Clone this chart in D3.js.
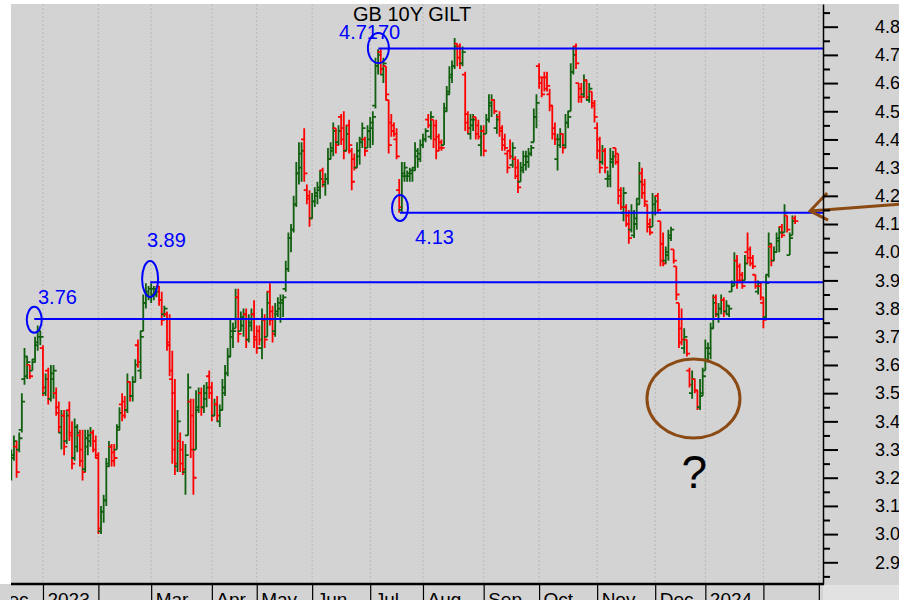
<!DOCTYPE html>
<html><head><meta charset="utf-8">
<script src="https://cdn.jsdelivr.net/npm/d3@7"></script>
<style>
body{margin:0;background:#fff}
svg{display:block;font-family:"Liberation Sans",Arial,Helvetica,sans-serif}
</style>
</head><body>
<svg id="c" width="899" height="600"></svg>
<script>
// ---- daily bars: [open, high, low, close] (yield %) ----
const dec22=[[3.21,3.30,3.19,3.28],[3.27,3.35,3.26,3.33],[3.31,3.33,3.20,3.22],[3.30,3.36,3.29,3.34],[3.37,3.50,3.36,3.47],[3.55,3.66,3.53,3.63],[3.56,3.63,3.55,3.61],[3.60,3.60,3.55,3.56],[3.58,3.62,3.58,3.61],[3.62,3.70,3.61,3.68],[3.67,3.74,3.65,3.72],[3.70,3.72,3.67,3.70]];
const jan23=[[3.66,3.67,3.49,3.52],[3.50,3.57,3.49,3.55],[3.58,3.59,3.46,3.48],[3.48,3.60,3.47,3.57],[3.55,3.60,3.48,3.58],[3.50,3.52,3.42,3.43],[3.45,3.47,3.36,3.38],[3.36,3.44,3.30,3.42],[3.42,3.44,3.28,3.31],[3.33,3.44,3.32,3.42],[3.44,3.47,3.33,3.35],[3.36,3.40,3.23,3.25],[3.27,3.41,3.26,3.38],[3.31,3.39,3.29,3.36],[3.35,3.37,3.24,3.26],[3.30,3.37,3.19,3.22],[3.23,3.37,3.22,3.34],[3.31,3.37,3.28,3.35],[3.33,3.38,3.31,3.36],[3.36,3.37,3.29,3.30],[3.33,3.35,3.27,3.28]];
const feb23=[[3.27,3.29,3.00,3.02],[3.01,3.10,3.00,3.08],[3.08,3.14,3.04,3.12],[3.12,3.27,3.10,3.24],[3.25,3.33,3.24,3.31],[3.31,3.32,3.24,3.26],[3.29,3.32,3.24,3.27],[3.30,3.39,3.30,3.37],[3.38,3.45,3.37,3.43],[3.46,3.50,3.40,3.42],[3.47,3.49,3.41,3.44],[3.44,3.57,3.43,3.54],[3.54,3.54,3.47,3.49],[3.49,3.56,3.47,3.54],[3.54,3.62,3.54,3.60],[3.67,3.69,3.59,3.61],[3.58,3.72,3.55,3.70],[3.72,3.85,3.72,3.82],[3.82,3.89,3.80,3.86],[3.85,3.88,3.83,3.87]];
const mar23=[[3.84,3.89,3.82,3.87],[3.85,3.88,3.83,3.87],[3.85,3.88,3.84,3.86],[3.88,3.88,3.81,3.83],[3.83,3.86,3.74,3.76],[3.78,3.81,3.77,3.80],[3.78,3.79,3.65,3.67],[3.68,3.78,3.56,3.58],[3.55,3.65,3.25,3.30],[3.50,3.55,3.21,3.25],[3.24,3.44,3.22,3.40],[3.33,3.36,3.22,3.25],[3.30,3.33,3.21,3.23],[3.22,3.32,3.14,3.28],[3.35,3.57,3.35,3.52],[3.47,3.48,3.27,3.30],[3.42,3.48,3.14,3.20],[3.30,3.51,3.30,3.45],[3.44,3.52,3.43,3.50],[3.50,3.52,3.42,3.45],[3.45,3.53,3.43,3.50],[3.48,3.54,3.45,3.52],[3.56,3.58,3.48,3.50]];
const apr23=[[3.52,3.54,3.40,3.42],[3.42,3.48,3.42,3.46],[3.46,3.49,3.40,3.42],[3.40,3.46,3.38,3.44],[3.44,3.55,3.44,3.52],[3.50,3.60,3.49,3.57],[3.57,3.66,3.56,3.63],[3.63,3.76,3.63,3.72],[3.70,3.75,3.66,3.72],[3.73,3.87,3.73,3.84],[3.84,3.87,3.68,3.71],[3.72,3.79,3.72,3.77],[3.74,3.80,3.70,3.78],[3.78,3.80,3.66,3.69],[3.69,3.78,3.68,3.75],[3.74,3.80,3.72,3.78],[3.78,3.83,3.66,3.69],[3.70,3.74,3.64,3.66]];
const may23=[[3.72,3.74,3.67,3.69],[3.66,3.80,3.62,3.76],[3.76,3.78,3.66,3.69],[3.70,3.86,3.70,3.82],[3.86,3.89,3.74,3.76],[3.79,3.81,3.68,3.71],[3.72,3.82,3.70,3.79],[3.78,3.84,3.77,3.82],[3.80,3.85,3.75,3.83],[3.82,3.85,3.77,3.84],[3.87,3.97,3.86,3.94],[3.94,4.07,3.93,4.05],[4.05,4.10,4.00,4.08],[4.08,4.20,4.07,4.17],[4.17,4.32,4.16,4.28],[4.28,4.39,4.24,4.35],[4.30,4.39,4.25,4.36],[4.40,4.44,4.25,4.28],[4.22,4.24,4.17,4.19],[4.20,4.22,4.09,4.12]];
const jun23=[[4.12,4.21,4.12,4.18],[4.18,4.23,4.16,4.21],[4.20,4.25,4.17,4.23],[4.22,4.29,4.19,4.26],[4.29,4.30,4.23,4.25],[4.24,4.28,4.20,4.26],[4.26,4.37,4.24,4.33],[4.33,4.39,4.33,4.37],[4.36,4.46,4.34,4.43],[4.44,4.44,4.35,4.38],[4.39,4.45,4.38,4.43],[4.48,4.49,4.38,4.40],[4.44,4.50,4.33,4.36],[4.36,4.45,4.36,4.42],[4.45,4.47,4.35,4.38],[4.36,4.37,4.22,4.25],[4.33,4.35,4.29,4.30],[4.30,4.39,4.30,4.36],[4.34,4.41,4.31,4.39],[4.40,4.46,4.37,4.44],[4.40,4.41,4.34,4.36],[4.37,4.45,4.37,4.43]];
const jul23=[[4.40,4.48,4.37,4.46],[4.44,4.50,4.38,4.48],[4.52,4.69,4.51,4.66],[4.66,4.72,4.63,4.70],[4.71,4.72,4.63,4.65],[4.63,4.69,4.60,4.67],[4.66,4.66,4.54,4.56],[4.54,4.54,4.35,4.38],[4.46,4.49,4.41,4.43],[4.45,4.46,4.41,4.42],[4.40,4.44,4.33,4.34],[4.22,4.26,4.14,4.16],[4.15,4.32,4.14,4.28],[4.27,4.32,4.25,4.30],[4.27,4.29,4.25,4.28],[4.27,4.30,4.25,4.29],[4.28,4.30,4.25,4.29],[4.30,4.39,4.29,4.36],[4.34,4.37,4.30,4.35],[4.33,4.40,4.32,4.38],[4.38,4.42,4.37,4.40]];
const aug23=[[4.40,4.44,4.39,4.43],[4.47,4.49,4.44,4.45],[4.41,4.50,4.40,4.48],[4.47,4.47,4.37,4.40],[4.45,4.47,4.33,4.36],[4.41,4.42,4.36,4.37],[4.39,4.40,4.36,4.37],[4.38,4.53,4.38,4.50],[4.51,4.59,4.50,4.56],[4.57,4.66,4.56,4.63],[4.62,4.68,4.60,4.66],[4.66,4.76,4.65,4.73],[4.74,4.74,4.66,4.69],[4.73,4.74,4.65,4.67],[4.67,4.73,4.66,4.71],[4.63,4.64,4.43,4.46],[4.49,4.50,4.42,4.44],[4.42,4.49,4.40,4.47],[4.45,4.49,4.43,4.47],[4.48,4.48,4.40,4.42],[4.45,4.47,4.40,4.41],[4.38,4.45,4.34,4.43]];
const sep23=[[4.43,4.45,4.34,4.36],[4.42,4.49,4.42,4.47],[4.47,4.56,4.46,4.53],[4.52,4.56,4.48,4.54],[4.54,4.54,4.49,4.50],[4.44,4.49,4.42,4.47],[4.48,4.50,4.41,4.43],[4.44,4.45,4.36,4.38],[4.40,4.42,4.36,4.37],[4.35,4.36,4.28,4.30],[4.36,4.40,4.33,4.34],[4.31,4.39,4.30,4.37],[4.33,4.34,4.26,4.27],[4.30,4.33,4.21,4.23],[4.25,4.32,4.25,4.30],[4.29,4.36,4.28,4.34],[4.31,4.36,4.29,4.34],[4.32,4.37,4.30,4.35],[4.35,4.38,4.34,4.37],[4.39,4.51,4.39,4.48],[4.48,4.56,4.44,4.53]];
const oct23=[[4.66,4.67,4.58,4.60],[4.62,4.62,4.55,4.56],[4.62,4.64,4.57,4.58],[4.62,4.64,4.57,4.59],[4.56,4.58,4.50,4.52],[4.52,4.52,4.40,4.42],[4.44,4.46,4.38,4.40],[4.33,4.42,4.29,4.40],[4.38,4.44,4.37,4.42],[4.42,4.42,4.35,4.37],[4.38,4.49,4.37,4.46],[4.46,4.50,4.44,4.48],[4.50,4.67,4.50,4.64],[4.64,4.73,4.63,4.70],[4.73,4.74,4.65,4.67],[4.60,4.60,4.53,4.55],[4.58,4.60,4.53,4.55],[4.56,4.63,4.55,4.61],[4.61,4.61,4.54,4.55],[4.54,4.60,4.53,4.58],[4.57,4.57,4.51,4.52],[4.53,4.54,4.46,4.48]];
const nov23=[[4.44,4.46,4.33,4.36],[4.40,4.41,4.28,4.30],[4.32,4.38,4.31,4.36],[4.36,4.37,4.28,4.30],[4.26,4.29,4.23,4.27],[4.26,4.37,4.23,4.33],[4.32,4.36,4.30,4.34],[4.37,4.37,4.31,4.32],[4.35,4.35,4.17,4.20],[4.22,4.23,4.15,4.16],[4.14,4.23,4.11,4.21],[4.16,4.17,4.09,4.10],[4.13,4.15,4.03,4.05],[4.08,4.17,4.07,4.14],[4.06,4.15,4.05,4.12],[4.10,4.19,4.08,4.17],[4.19,4.32,4.17,4.25],[4.28,4.30,4.19,4.21],[4.24,4.26,4.16,4.18],[4.17,4.17,4.07,4.09],[4.10,4.12,4.06,4.07],[4.09,4.21,4.09,4.17]];
const dec23=[[4.14,4.20,4.13,4.18],[4.20,4.21,4.14,4.15],[4.11,4.11,3.95,3.97],[4.03,4.07,3.95,3.96],[3.97,4.02,3.96,4.00],[3.99,4.08,3.97,4.06],[4.05,4.09,4.04,4.08],[4.01,4.01,3.96,3.97],[3.95,3.95,3.83,3.85],[3.82,3.82,3.66,3.68],[3.73,3.80,3.67,3.69],[3.66,3.73,3.64,3.70],[3.69,3.69,3.63,3.64],[3.58,3.59,3.52,3.53],[3.50,3.58,3.48,3.55],[3.55,3.55,3.50,3.51],[3.51,3.51,3.44,3.45],[3.45,3.55,3.44,3.50],[3.49,3.59,3.49,3.56]];
const jan24=[[3.58,3.69,3.58,3.66],[3.62,3.68,3.61,3.66],[3.64,3.75,3.62,3.73],[3.73,3.85,3.73,3.82],[3.84,3.85,3.77,3.78],[3.78,3.82,3.75,3.80],[3.80,3.85,3.78,3.83],[3.83,3.84,3.77,3.79],[3.79,3.83,3.78,3.81],[3.78,3.81,3.77,3.80],[3.86,3.90,3.86,3.89],[3.88,4.00,3.88,3.97],[3.97,3.99,3.87,3.90],[3.95,3.96,3.89,3.90],[3.92,3.93,3.87,3.88],[3.90,3.99,3.90,3.96],[4.00,4.07,3.96,3.98],[4.01,4.02,3.95,3.96],[3.98,3.99,3.94,3.95],[3.92,3.92,3.87,3.88],[3.86,3.90,3.85,3.89],[3.88,3.89,3.83,3.84]];
const feb24=[[3.82,3.84,3.73,3.76],[3.77,3.92,3.76,3.89],[3.92,4.07,3.91,4.03],[4.02,4.03,3.95,3.97],[3.97,4.02,3.97,4.00],[4.00,4.07,4.00,4.05],[4.04,4.09,4.00,4.07],[4.09,4.10,4.05,4.06],[4.07,4.17,4.07,4.14],[4.13,4.13,4.07,4.08],[3.99,4.07,3.99,4.05],[4.06,4.13,4.06,4.11],[4.12,4.13,4.10,4.11]];

// ---- axis / tick data ----
const monthTickIndex=[-8,12,33,53,76,93,114,136,156,179,200,222,244,263,285,306];
const monthTickLabels=["Dec","2023","","Mar","Apr","May","Jun","Jul","Aug","Sep","Oct","Nov","Dec","2024","",""];
const yMajorTicks=d3.range(29,49).map(v=>v/10);
const yMinorTicks=d3.range(28,49).map(v=>v/10+0.05);

// ---- annotations ----
const title="GB 10Y GILT";
const levelValues=[3.763,3.893,4.14,4.723];
const levelStartIndex=[8.7,52.6,147.3,139.1];
const levelLabels=["3.76","3.89","4.13","4.7170"];
const levelLabelAt=[[10.1,3.816],[51.4,4.019],[153.0,4.029],[124.2,4.756]];
const markerAt=[[8.7,3.760],[52.6,3.905],[139.1,4.724],[147.3,4.157]];
const lowCircleAt=[258.5,3.481];
const arrowFrom=[336.4,4.170], arrowTo=[302.7,4.146];
const questionAt=[258.8,3.165];

// ---- layout ----
const W=899,H=600, L=11, T=4, R=823, B=584;
const svg=d3.select("#c");
const bars=[dec22,jan23,feb23,mar23,apr23,may23,jun23,jul23,aug23,sep23,oct23,nov23,dec23,jan24,feb24]
  .flat().map((d,i)=>({i,o:d[0],h:d[1],l:d[2],c:d[3]}));

const x=d3.scaleLinear().domain([0,307.7]).range([11.3,823.3]);
const y=d3.scaleLinear().domain([2.823,4.8805]).range([B,T]);

// backgrounds
svg.append("rect").attr("x",0).attr("y",0).attr("width",W).attr("height",H).attr("fill","#fff");
svg.append("rect").attr("x",L).attr("y",T).attr("width",W-L).attr("height",H-T).attr("fill","#d3d3d3");
svg.append("rect").attr("x",0).attr("y",B).attr("width",R).attr("height",H-B).attr("fill","#d3d3d3");
svg.append("rect").attr("x",R).attr("y",B+1).attr("width",W-R).attr("height",H-B).attr("fill","#e2e2e2");

const defs=svg.append("defs");
defs.append("clipPath").attr("id","plot").append("rect").attr("x",L).attr("y",T).attr("width",R-L).attr("height",B-T);
defs.append("clipPath").attr("id","xlab").append("rect").attr("x",L).attr("y",B).attr("width",R-L+2).attr("height",H-B);

// vertical dotted gridlines
svg.append("g").selectAll("line").data(monthTickIndex.filter(i=>x(i)>L))
  .join("line").attr("x1",d=>x(d)).attr("x2",d=>x(d)).attr("y1",T).attr("y2",B)
  .attr("stroke","#b9b9b9").attr("stroke-width",1).attr("stroke-dasharray","2,2");

// bars
const gB=svg.append("g").attr("clip-path","url(#plot)");
gB.selectAll("path").data(bars).join("path")
  .attr("d",d=>{const X=x(d.i);return `M${X},${y(d.h)}V${y(d.l)}M${X-3.2},${y(d.o)}H${X}M${X},${y(d.c)}H${X+3.2}`;})
  .attr("fill","none").attr("stroke-width",1.8)
  .attr("stroke",d=>d.c>=d.o?"#106010":"#ff0000");

// blue levels
const gA=svg.append("g").attr("clip-path","url(#plot)");
gA.selectAll("line.lvl").data(levelValues).join("line").attr("class","lvl")
  .attr("x1",(d,k)=>x(levelStartIndex[k])).attr("x2",R).attr("y1",d=>y(d)).attr("y2",d=>y(d))
  .attr("stroke","#0000ff").attr("stroke-width",2);
const markerR=[[7.5,13],[8,18],[10.5,15],[8,13]];
gA.selectAll("ellipse.mk").data(markerAt).join("ellipse").attr("class","mk")
  .attr("cx",d=>x(d[0])).attr("cy",d=>y(d[1]))
  .attr("rx",(d,k)=>markerR[k][0]).attr("ry",(d,k)=>markerR[k][1])
  .attr("fill","none").attr("stroke","#0000ff").attr("stroke-width",2);
svg.append("g").selectAll("text").data(levelLabels).join("text")
  .attr("x",(d,k)=>x(levelLabelAt[k][0])).attr("y",(d,k)=>y(levelLabelAt[k][1]))
  .attr("fill","#0000ff").attr("font-size",20).text(d=>d);

// title
svg.append("text").attr("x",353).attr("y",21).attr("font-size",20).attr("fill","#000").text(title);

// brown annotations
svg.append("ellipse").attr("cx",x(lowCircleAt[0])).attr("cy",y(lowCircleAt[1]))
  .attr("rx",46.5).attr("ry",39.5).attr("fill","none").attr("stroke","#8b4a14").attr("stroke-width",3);
const ax1=x(arrowFrom[0]),ay1=y(arrowFrom[1]),ax2=x(arrowTo[0]),ay2=y(arrowTo[1]);
svg.append("path").attr("d",`M${ax1},${ay1}L${ax2},${ay2}M${ax2+17},${ay2-18}L${ax2},${ay2}L${ax2+18},${ay2+9}`)
  .attr("fill","none").attr("stroke","#8b4a14").attr("stroke-width",3).attr("stroke-linejoin","miter");
svg.append("text").attr("x",x(questionAt[0])).attr("y",y(questionAt[1])).attr("text-anchor","middle")
  .attr("font-size",46).attr("fill","#000").text("?");

// right axis
const gy=svg.append("g").attr("transform",`translate(${R},0)`);
gy.call(d3.axisRight(y).tickValues(yMajorTicks).tickSize(15).tickSizeOuter(0).tickPadding(37).tickFormat(d3.format(".1f")));
gy.select(".domain").attr("stroke-width",1.5);
gy.selectAll(".tick line").attr("stroke-width",2);
gy.selectAll("text").attr("font-size",18).attr("font-family","Liberation Sans, Arial, sans-serif").attr("fill","#000");
const gy2=svg.append("g").attr("transform",`translate(${R},0)`);
gy2.call(d3.axisRight(y).tickValues(yMinorTicks).tickSize(7).tickSizeOuter(0).tickFormat(""));
gy2.select(".domain").remove();
gy2.selectAll(".tick line").attr("stroke-width",2);

// bottom axis
const gx=svg.append("g").attr("transform",`translate(0,${B})`).attr("clip-path","url(#xlab)");
gx.attr("clip-path",null);
const gxa=gx.append("g").attr("clip-path","url(#xlab2)");
defs.append("clipPath").attr("id","xlab2").append("rect").attr("x",L).attr("y",0).attr("width",R-L+2).attr("height",H-B);
gxa.call(d3.axisBottom(x).tickValues(monthTickIndex).tickSize(16).tickSizeOuter(0).tickFormat((d,k)=>monthTickLabels[k]));
gxa.select(".domain").remove();
gxa.selectAll(".tick line").attr("stroke-width",1.2);
gxa.selectAll(".tick text").attr("text-anchor","start").attr("x",4).attr("y",22).attr("dy",null)
  .attr("font-size",19).attr("font-family","Liberation Sans, Arial, sans-serif").attr("fill","#000");
svg.append("line").attr("x1",L).attr("x2",R+1).attr("y1",B).attr("y2",B).attr("stroke","#000").attr("stroke-width",2.5);
</script>
</body></html>
